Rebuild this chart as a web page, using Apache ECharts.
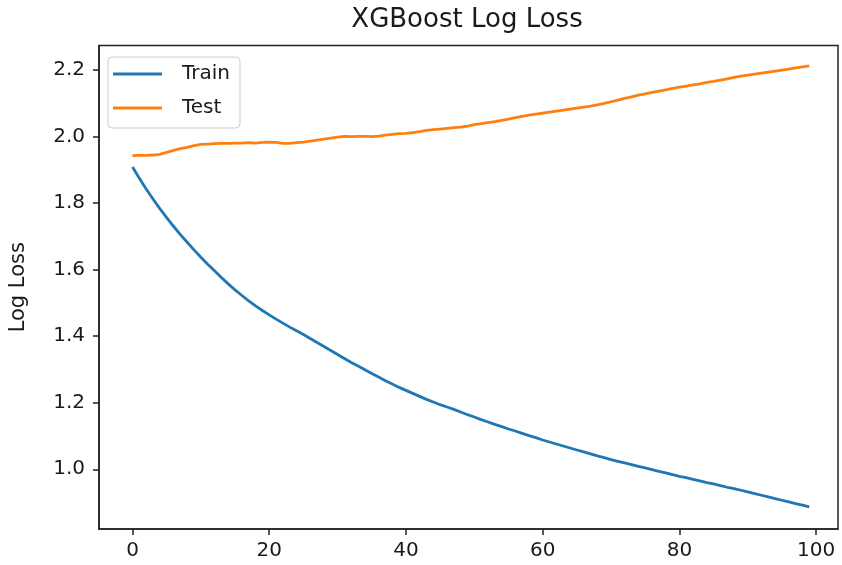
<!DOCTYPE html>
<html>
<head>
<meta charset="utf-8">
<script src="https://cdn.jsdelivr.net/npm/echarts@6/dist/echarts.min.js"></script>
<style>
html,body{margin:0;padding:0;background:#fff;}
#chart{width:842px;height:565px;}
</style>
</head>
<body>
<div id="chart"></div>
<script>
const titleText = 'XGBoost Log Loss';
const yAxisName = 'Log Loss';
const seriesNames = ['Train', 'Test'];
const xTicks = [0, 20, 40, 60, 80, 100];
const yTicks = [1.0, 1.2, 1.4, 1.6, 1.8, 2.0, 2.2];

const trainLoss = [
  1.908, 1.874, 1.842, 1.812, 1.783, 1.756, 1.730, 1.705, 1.682, 1.659,
  1.637, 1.616, 1.596, 1.576, 1.557, 1.539, 1.522, 1.506, 1.491, 1.477,
  1.464, 1.451, 1.439, 1.427, 1.416, 1.405, 1.393, 1.381, 1.369, 1.357,
  1.345, 1.333, 1.321, 1.310, 1.299, 1.288, 1.277, 1.266, 1.256, 1.246,
  1.237, 1.228, 1.219, 1.210, 1.202, 1.194, 1.187, 1.180, 1.172, 1.164,
  1.157, 1.149, 1.142, 1.135, 1.128, 1.121, 1.115, 1.108, 1.101, 1.095,
  1.088, 1.082, 1.076, 1.070, 1.064, 1.058, 1.052, 1.046, 1.040, 1.035,
  1.029, 1.024, 1.019, 1.014, 1.009, 1.004, 0.999, 0.994, 0.989, 0.984,
  0.979, 0.975, 0.970, 0.965, 0.960, 0.956, 0.951, 0.946, 0.942, 0.937,
  0.932, 0.927, 0.922, 0.917, 0.912, 0.907, 0.902, 0.897, 0.892, 0.887
];

const testLoss = [
  1.942, 1.943, 1.943, 1.944, 1.946, 1.952, 1.958, 1.963, 1.967, 1.972,
  1.976, 1.977, 1.978, 1.979, 1.979, 1.980, 1.980, 1.981, 1.980, 1.982,
  1.983, 1.982, 1.979, 1.979, 1.981, 1.983, 1.986, 1.989, 1.992, 1.995,
  1.998, 2.000, 1.999, 2.000, 2.000, 1.999, 2.001, 2.004, 2.006, 2.008,
  2.009, 2.011, 2.014, 2.018, 2.020, 2.022, 2.024, 2.026, 2.028, 2.031,
  2.035, 2.038, 2.041, 2.044, 2.048, 2.052, 2.056, 2.060, 2.064, 2.067,
  2.070, 2.073, 2.076, 2.079, 2.082, 2.085, 2.088, 2.091, 2.095, 2.099,
  2.104, 2.109, 2.114, 2.119, 2.124, 2.128, 2.132, 2.136, 2.140, 2.144,
  2.148, 2.151, 2.155, 2.158, 2.162, 2.165, 2.169, 2.173, 2.177, 2.181,
  2.184, 2.187, 2.190, 2.193, 2.196, 2.199, 2.202, 2.206, 2.209, 2.212
];

const FONT = 'DejaVu Sans';
const toPairs = arr => arr.map((v, i) => [i, v]);

const chart = echarts.init(document.getElementById('chart'), null, {renderer: 'canvas'});
chart.setOption({
  animation: false,
  backgroundColor: '#fff',
  title: {
    text: titleText,
    left: 467,
    top: 7,
    textAlign: 'center',
    padding: 0,
    textStyle: {fontFamily: FONT, fontSize: 26, fontWeight: 'normal', color: '#1a1a1a'}
  },
  legend: {
    data: seriesNames,
    orient: 'vertical',
    left: 108,
    top: 57,
    icon: 'rect',
    itemWidth: 49,
    itemHeight: 3,
    itemGap: 14,
    padding: [7, 10, 10, 5],
    borderColor: '#cccccc',
    borderWidth: 1,
    borderRadius: 4,
    backgroundColor: 'rgba(255,255,255,0.8)',
    textStyle: {fontFamily: FONT, fontSize: 20, color: '#1a1a1a', padding: [0, 0, 0, 15]}
  },
  grid: {
    left: 96.5, right: 4, top: 45.5, bottom: 36,
    show: true, borderColor: '#222', borderWidth: 1.5, backgroundColor: '#fff'
  },
  xAxis: {
    type: 'value',
    min: -4.9,
    max: 103.2,
    axisLine: {show: true, onZero: false, lineStyle: {color: '#222', width: 1.5}},
    axisTick: {show: true, customValues: xTicks, length: 6, lineStyle: {color: '#222', width: 1.5}},
    axisLabel: {customValues: xTicks, fontFamily: FONT, fontSize: 20, color: '#1a1a1a', margin: 12},
    splitLine: {show: false}
  },
  yAxis: {
    type: 'value',
    min: 0.8206,
    max: 2.273,
    name: yAxisName,
    nameLocation: 'middle',
    nameGap: 70,
    nameTextStyle: {fontFamily: FONT, fontSize: 21, color: '#1a1a1a'},
    axisLine: {show: true, onZero: false, lineStyle: {color: '#222', width: 1.5}},
    axisTick: {show: true, customValues: yTicks, length: 6, lineStyle: {color: '#222', width: 1.5}},
    axisLabel: {customValues: yTicks, fontFamily: FONT, fontSize: 20, color: '#1a1a1a', margin: 14,
      formatter: v => Number(v).toFixed(1)},
    splitLine: {show: false}
  },
  series: [
    {name: seriesNames[0], type: 'line', data: toPairs(trainLoss), symbol: 'none',
      lineStyle: {color: '#1f77b4', width: 2.8}, itemStyle: {color: '#1f77b4'}},
    {name: seriesNames[1], type: 'line', data: toPairs(testLoss), symbol: 'none',
      lineStyle: {color: '#ff7f0e', width: 2.8}, itemStyle: {color: '#ff7f0e'}}
  ]
});
</script>
</body>
</html>
